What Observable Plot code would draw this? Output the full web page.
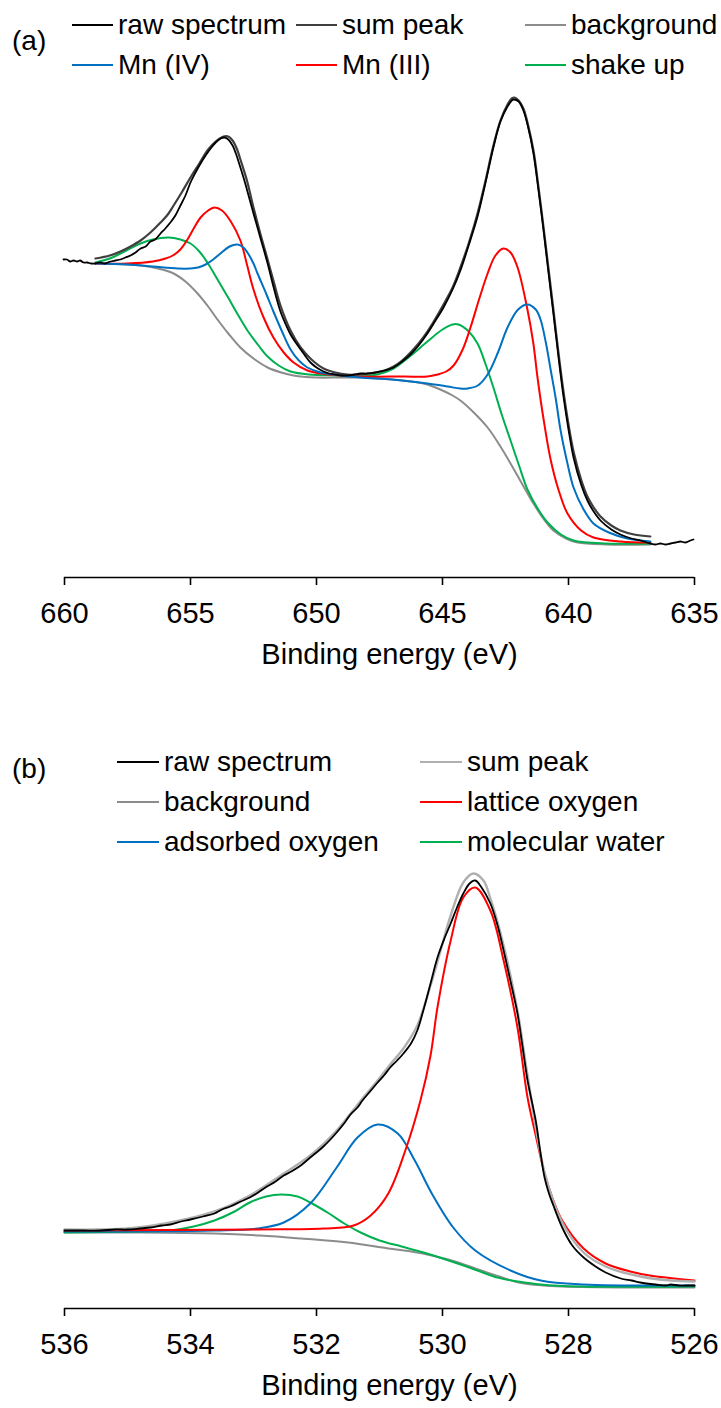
<!DOCTYPE html>
<html>
<head>
<meta charset="utf-8">
<script src="https://cdn.jsdelivr.net/npm/d3@7"></script>
<script src="https://cdn.jsdelivr.net/npm/@observablehq/plot@0.6"></script>
<style>
  html, body { margin: 0; padding: 0; background: #fff; }
  #page { position: relative; width: 721px; height: 1408px; overflow: hidden;
          font-family: "Liberation Sans", Arial, sans-serif; color: #000; }
  .panel { position: absolute; left: 0; }
  .leg { position: absolute; height: 40px; display: flex; align-items: center;
         font-size: 28px; white-space: nowrap; }
  .leg svg { display: block; margin-right: 5px; }
  .tag { position: absolute; font-size: 28px; height: 40px; display: flex; align-items: center; }
</style>
</head>
<body>
<div id="page"></div>
<script>
// ---------------- DATA (intensity in arbitrary units) ----------------
// Panel (a): Mn 2p, [binding energy eV, intensity]
const mnRaw = [[660.04,318],[659.9,318],[659.78,316],[659.64,317],[659.5,316],[659.38,317],[659.25,315],
  [659.1,315],[658.95,314],[658.77,314],[658.6,315],[658.4,314],[658.17,316],[657.98,317],[657.78,318],
  [657.58,320],[657.38,322],[657.18,325],[656.98,329],[656.78,331],[656.59,336],[656.4,338],[656.19,344],
  [656.0,349],[655.8,355],[655.6,362],[655.4,372],[655.2,382],[655.0,395],[654.8,405],[654.6,414],
  [654.4,422],[654.2,429],[654.0,435],[653.8,439],[653.65,440],[653.5,438],[653.33,432],[653.2,424],
  [653.02,410],[652.85,396],[652.74,386],[652.5,364],[652.22,339],[651.94,314],[651.71,291],[651.43,266],
  [651.2,252],[651.03,243],[650.8,234],[650.63,228],[650.4,220],[650.24,215],[650.0,210],[649.72,206],
  [649.5,204],[649.25,203],[649.0,202],[648.77,202],[648.5,203],[648.25,204],[648.0,204],[647.66,205],
  [647.3,207],[646.94,210],[646.6,216],[646.27,223],[645.95,232],[645.6,244],[645.3,256],[644.96,270],
  [644.6,288],[644.29,307],[643.95,333],[643.61,361],[643.3,394],[642.98,430],[642.7,456],[642.42,471],
  [642.25,477],[642.18,478],[641.98,476],[641.79,467],[641.6,450],[641.39,424],[641.2,389],[640.99,347],
  [640.8,306],[640.6,264],[640.4,221],[640.2,181],[640.0,148],[639.8,120],[639.5,93],[639.25,77],
  [639.0,66],[638.73,57],[638.3,48],[637.94,43],[637.5,39],[637.14,37],[636.9,35],[636.75,34],
  [636.55,33],[636.35,34],[636.15,33],[635.95,34],[635.75,35],[635.56,36],[635.36,35],[635.16,37],[635.04,38]];
const mnSum = [[658.77,319],[658.2,322],[657.78,326],[657.38,331],[656.98,337],[656.59,345],[656.19,355],
  [655.9,363],[655.67,372],[655.35,385],[655.0,400],[654.65,414],[654.33,427],[654.0,436],[653.69,441],
  [653.5,441],[653.33,437],[653.15,428],[653.02,418],[652.75,396],[652.5,370],[652.22,343],[651.94,318],
  [651.7,296],[651.43,272],[651.03,247],[650.63,230],[650.2,218],[649.72,209],[649.25,205],[648.77,203],
  [648.25,203],[647.66,205],[647.3,207],[646.94,211],[646.6,217],[646.27,225],[645.95,234],[645.6,246],
  [645.3,258],[644.96,273],[644.6,290],[644.29,310],[643.95,335],[643.61,364],[643.3,396],[642.98,432],
  [642.7,457],[642.42,473],[642.25,479],[642.14,480],[641.98,477],[641.79,469],[641.6,452],[641.39,427],
  [641.2,392],[640.99,350],[640.8,310],[640.6,268],[640.4,225],[640.2,186],[640.0,153],[639.8,126],
  [639.5,98],[639.25,81],[639.0,70],[638.73,61],[638.3,52],[637.94,47],[637.4,43],[636.75,41]];
const mnBackground = [[658.77,314],[657.5,313],[656.98,312],[656.3,309],[655.67,304],[655.2,296],
  [654.72,284],[654.3,271],[653.93,258],[653.5,244],[653.02,230],[652.5,219],[651.94,210],[651.4,205],
  [650.91,202],[650.0,200],[649.05,200],[648.25,200],[647.0,198],[646.2,196],[645.6,193],[645.0,187],
  [644.6,182],[644.29,177],[643.8,166],[643.21,150],[642.75,133],[642.3,114],[641.85,94],[641.39,74],
  [641.0,59],[640.6,47],[640.1,39],[639.64,35],[638.5,33],[636.75,33]];
const mnIV = [[658.77,314],[657.5,313],[656.5,311],[655.5,309],[655.0,309],[654.7,310],[654.4,313],
  [654.1,318],[653.81,324],[653.45,331],[653.13,333],[652.9,330],[652.74,325],[652.5,314],[652.34,304],
  [652.0,284],[651.71,266],[651.35,245],[651.03,228],[650.7,217],[650.36,210],[649.84,205],[649.33,203],
  [648.25,200],[647.0,198],[645.6,194],[644.8,191],[644.3,189],[644.01,189],[643.6,192],[643.21,203],
  [642.8,225],[642.42,250],[642.0,268],[641.63,273],[641.3,268],[641.11,258],[640.9,235],[640.71,208],
  [640.5,178],[640.32,148],[640.05,115],[639.8,90],[639.4,68],[639.01,54],[638.4,45],[637.66,39],[636.75,36]];
const mnIII = [[658.77,314],[657.5,314],[656.5,316],[655.99,319],[655.7,322],[655.4,328],[655.12,338],
  [654.85,350],[654.6,360],[654.3,367],[654.05,370],[653.75,367],[653.4,356],[653.02,337],[652.75,312],
  [652.5,288],[652.1,260],[651.71,240],[651.3,225],[650.91,215],[650.36,207],[649.84,204],[648.25,201],
  [646.5,201],[645.6,201],[645.2,203],[644.85,206],[644.56,212],[644.2,228],[643.89,250],[643.55,278],
  [643.21,304],[642.9,322],[642.58,329],[642.3,325],[642.02,310],[641.63,268],[641.4,235],[641.23,200],
  [641.0,160],[640.71,118],[640.4,88],[640.04,64],[639.5,47],[639.01,40],[637.94,36],[636.75,35]];
const mnShakeUp = [[658.77,315],[658.2,319],[657.78,324],[657.4,329],[656.98,334],[656.5,338],[655.87,340],
  [655.4,338],[655.0,334],[654.65,326],[654.33,315],[653.95,299],[653.53,281],[653.1,262],[652.74,247],
  [652.3,232],[651.94,221],[651.5,212],[651.03,206],[650.3,203],[649.05,202],[648.25,201],[647.6,203],
  [646.94,209],[646.3,221],[645.6,236],[645.0,248],[644.6,253],[644.37,253],[644.0,247],[643.61,234],
  [643.3,214],[642.98,190],[642.65,163],[642.3,137],[641.95,111],[641.63,88],[641.2,68],[640.83,55],
  [640.3,43],[639.8,37],[638.5,34],[636.75,34]];

// Panel (b): O 1s, [binding energy eV, intensity]
const oRaw = [[536.0,78],[535.7,78],[535.43,78],[535.2,79],[535.0,79],[534.8,80],[534.63,81],[534.45,83],
  [534.32,84],[534.15,87],[534.0,89],[533.8,92],[533.62,95],[533.5,99],[533.37,102],[533.2,107],
  [533.06,111],[532.95,115],[532.81,121],[532.65,127],[532.52,133],[532.4,137],[532.25,143],[532.1,151],
  [532.0,156],[531.89,162],[531.78,169],[531.68,176],[531.55,186],[531.46,194],[531.35,201],[531.27,208],
  [531.15,217],[531.03,226],[530.93,233],[530.83,241],[530.72,248],[530.62,255],[530.5,265],[530.4,278],
  [530.3,299],[530.19,325],[530.08,351],[529.97,370],[529.87,385],[529.77,401],[529.67,415],[529.57,425],
  [529.48,428],[529.38,421],[529.24,405],[529.13,384],[529.03,358],[528.92,327],[528.81,295],[528.73,262],
  [528.65,228],[528.52,188],[528.45,158],[528.38,131],[528.31,115],[528.24,103],[528.1,81],[527.94,63],
  [527.76,51],[527.57,42],[527.41,36],[527.17,30],[527.0,28],[526.86,26],[526.62,24],[526.45,23],
  [526.38,24],[526.25,23],[526.14,23],[526.0,23]];
const oSum = [[536.0,79],[535.0,80],[534.32,86],[533.62,97],[533.06,113],[532.52,135],[532.1,153],
  [531.68,178],[531.27,210],[531.03,228],[530.83,244],[530.62,260],[530.4,283],[530.19,323],[530.03,358],
  [529.87,393],[529.67,426],[529.51,435],[529.35,428],[529.24,410],[529.03,363],[528.81,298],[528.65,233],
  [528.38,136],[528.1,86],[527.76,56],[527.41,42],[526.86,32],[526.38,28],[526.0,27]];
const oBackground = [[536.0,76],[534.8,76],[533.62,75],[532.9,73],[532.24,70],[531.5,66],[530.86,60],
  [530.5,57],[530.17,53],[529.8,47],[529.48,40],[529.1,32],[528.79,26],[528.4,23],[528.1,22],[527.0,21],[526.0,21]];
const oLattice = [[536.0,78],[532.94,79],[531.89,80],[531.41,83],[531.14,93],[530.86,115],[530.59,158],
  [530.35,208],[530.19,253],[530.08,301],[529.87,368],[529.67,411],[529.48,421],[529.24,398],[529.03,348],
  [528.81,281],[528.65,211],[528.52,173],[528.38,135],[528.24,108],[528.1,88],[527.76,60],[527.41,45],
  [527.02,37],[526.71,33],[526.0,28]];
const oAdsorbed = [[536.0,77],[533.62,78],[532.94,80],[532.52,86],[532.1,105],[531.68,141],[531.35,171],
  [531.03,184],[530.71,175],[530.44,148],[530.17,115],[529.83,81],[529.48,58],[528.92,38],[528.44,28],
  [527.76,24],[526.0,23]];
const oWater = [[536.0,76],[534.8,77],[534.32,78],[533.95,82],[533.62,88],[533.3,97],[533.06,106],
  [532.8,112],[532.56,114],[532.3,112],[532.1,106],[531.8,95],[531.56,85],[531.3,76],[531.0,68],
  [530.65,62],[530.3,56],[529.76,45],[529.4,37],[529.13,31],[528.8,27],[528.44,24],[527.8,22],[526.0,22]];

const ticksA = [660, 655, 650, 645, 640, 635];
const ticksB = [536, 534, 532, 530, 528, 526];
const axisTitle = "Binding energy (eV)";

const legendA = [
  {label: "raw spectrum", color: "#000000"},
  {label: "sum peak", color: "#3f3f3f"},
  {label: "background", color: "#8c8c8c"},
  {label: "Mn (IV)", color: "#0070C0"},
  {label: "Mn (III)", color: "#FF0000"},
  {label: "shake up", color: "#00B050"}
];
const legendB = [
  {label: "raw spectrum", color: "#000000"},
  {label: "sum peak", color: "#b0b0b0"},
  {label: "background", color: "#8c8c8c"},
  {label: "lattice oxygen", color: "#FF0000"},
  {label: "adsorbed oxygen", color: "#0070C0"},
  {label: "molecular water", color: "#00B050"}
];

// ---------------- drawing ----------------
const page = document.getElementById("page");
const FONT = '"Liberation Sans", Arial, sans-serif';

function panel({top, height, marginTop, marginBottom, domain, ticks, series}) {
  const marks = series.map(s => Plot.line(s.data, {
    x: d => d[0], y: d => d[1], stroke: s.color, strokeWidth: s.width ?? 2,
    curve: "catmull-rom"
  }));
  const svg = Plot.plot({
    width: 721, height, marginLeft: 64, marginRight: 27, marginTop, marginBottom,
    style: {fontFamily: FONT, background: "transparent", overflow: "visible", color: "#000"},
    x: {domain, ticks},
    y: {domain: [0, 500], axis: null},
    marks: [
      ...marks,
      Plot.ruleY([0], {stroke: "#000", strokeWidth: 1.6}),
      Plot.axisX(ticks, {tickSize: 8, tickPadding: 17, fontSize: 29, label: null, strokeWidth: 1.6,
        tickFormat: d => String(d), fill: "#000", stroke: "#000"}),
      Plot.text([axisTitle], {text: d => d, frameAnchor: "bottom", dy: 77, dx: 10, fontSize: 29,
        lineAnchor: "middle", fill: "#000"})
    ]
  });
  const wrap = document.createElement("div");
  wrap.className = "panel";
  wrap.style.top = top + "px";
  wrap.appendChild(svg);
  page.appendChild(wrap);
}

function legend(entries, tag, {tagX, tagY, colX, rowY, ncol, seg}) {
  const t = document.createElement("div");
  t.className = "tag"; t.textContent = tag;
  t.style.left = tagX + "px"; t.style.top = (tagY - 20) + "px";
  page.appendChild(t);
  entries.forEach((e, i) => {
    const d = document.createElement("div");
    d.className = "leg";
    d.style.left = colX[i % ncol] + "px";
    d.style.top = (rowY[Math.floor(i / ncol)] - 20) + "px";
    d.innerHTML = `<svg width="${seg}" height="4"><line x1="0" x2="${seg}" y1="2" y2="2" stroke="${e.color}" stroke-width="2"/></svg><span>${e.label}</span>`;
    page.appendChild(d);
  });
}

panel({top: 0, height: 700, marginTop: 77, marginBottom: 123, domain: [660, 635], ticks: ticksA,
  series: [
    {data: mnBackground, color: "#8c8c8c"},
    {data: mnShakeUp, color: "#00B050"},
    {data: mnIII, color: "#FF0000"},
    {data: mnIV, color: "#0070C0"},
    {data: mnSum, color: "#3f3f3f", width: 2.2},
    {data: mnRaw, color: "#000000", width: 1.8}
  ]});

panel({top: 700, height: 708, marginTop: 108, marginBottom: 100, domain: [536, 526], ticks: ticksB,
  series: [
    {data: oBackground, color: "#8c8c8c"},
    {data: oWater, color: "#00B050"},
    {data: oAdsorbed, color: "#0070C0"},
    {data: oLattice, color: "#FF0000"},
    {data: oSum, color: "#b0b0b0", width: 2.4},
    {data: oRaw, color: "#000000", width: 1.8}
  ]});

legend(legendA, "(a)", {tagX: 12, tagY: 41, colX: [72, 296, 525], rowY: [25, 65], ncol: 3, seg: 41});
legend(legendB, "(b)", {tagX: 12, tagY: 769, colX: [117, 420], rowY: [762, 802, 842], ncol: 2, seg: 42});
</script>
</body>
</html>
